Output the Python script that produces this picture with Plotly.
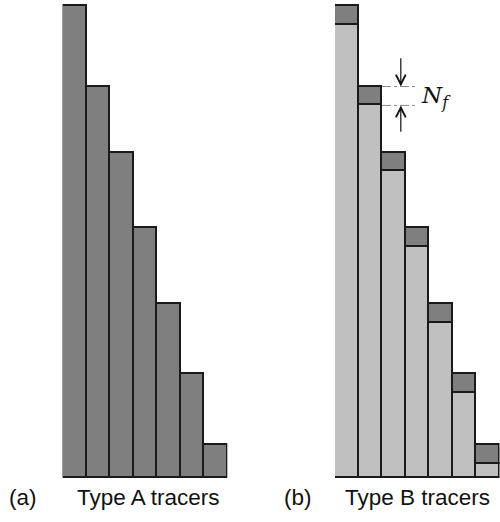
import plotly.graph_objects as go

# Data
bins = [1, 2, 3, 4, 5, 6, 7]
type_a_counts = [100, 83, 69, 53, 37, 22, 7]
nf = 4
type_b_light = [v - nf for v in type_a_counts]
type_b_dark = [nf] * len(bins)

dark = "#7f7f7f"
light = "#c0c0c0"
edge = "#1a1a1a"

W, H = 500, 522
fig = go.Figure()

fig.add_trace(go.Bar(x=bins, y=type_a_counts, width=1, marker=dict(color=dark, line=dict(color=edge, width=1.7)),
                     xaxis="x", yaxis="y", showlegend=False))
fig.add_trace(go.Bar(x=bins, y=type_b_light, width=1, marker=dict(color=light, line=dict(color=edge, width=1.7)),
                     xaxis="x2", yaxis="y2", showlegend=False))
fig.add_trace(go.Bar(x=bins, y=type_b_dark, width=1, marker=dict(color=dark, line=dict(color=edge, width=1.7)),
                     xaxis="x2", yaxis="y2", showlegend=False))

ymax = 101.33
ax_common = dict(visible=False, showgrid=False, zeroline=False, fixedrange=True)
fig.update_layout(
    width=W, height=H, margin=dict(l=0, r=0, t=0, b=0),
    paper_bgcolor="white", plot_bgcolor="rgba(0,0,0,0)",
    barmode="stack", bargap=0,
    xaxis=dict(domain=[62.7 / W, 227.3 / W], range=[0.5, 7.5], **ax_common),
    yaxis=dict(domain=[43.7 / H, 1], range=[0, ymax], **ax_common),
    xaxis2=dict(domain=[335 / W, 499.5 / W], range=[0.5, 7.5], anchor="y2", **ax_common),
    yaxis2=dict(domain=[43.7 / H, 1], range=[0, ymax], anchor="x2", **ax_common),
)

# Nf marker lines (dash-dot) at top and bottom of the dark cap of bar 2
top2 = type_a_counts[1]
bot2 = type_b_light[1]
for yv in (top2, bot2):
    fig.add_shape(type="line", xref="x2", yref="y2", x0=2.5, x1=3.96, y0=yv, y1=yv,
                  line=dict(color="#8a8a8a", width=1, dash="dashdot"))

arrow_x = 3.3
fig.add_annotation(x=arrow_x, y=top2, ax=arrow_x, ay=top2 + 6.3, xref="x2", yref="y2", axref="x2", ayref="y2",
                   text="", showarrow=True, arrowhead=5, arrowsize=1.6, arrowwidth=1.2, arrowcolor="#111")
fig.add_annotation(x=arrow_x, y=bot2, ax=arrow_x, ay=bot2 - 5.9, xref="x2", yref="y2", axref="x2", ayref="y2",
                   text="", showarrow=True, arrowhead=5, arrowsize=1.6, arrowwidth=1.2, arrowcolor="#111")
fig.add_annotation(x=419 / W, y=1 - 97 / H, xref="paper", yref="paper", xanchor="left", yanchor="middle",
                   text="<i>N</i><sub><i>f</i></sub>", showarrow=False,
                   font=dict(family="DejaVu Serif", size=23, color="#111"))

# Labels
lab_y = 1 - 497 / H
lab_font = dict(family="Liberation Sans", size=22.5, color="#111")
fig.add_annotation(x=22.5 / W, y=lab_y, xref="paper", yref="paper", text="(a)", showarrow=False,
                   xanchor="center", yanchor="middle", font=lab_font)
fig.add_annotation(x=148.5 / W, y=lab_y, xref="paper", yref="paper", text="Type A tracers", showarrow=False,
                   xanchor="center", yanchor="middle", font=lab_font)
fig.add_annotation(x=298 / W, y=lab_y, xref="paper", yref="paper", text="(b)", showarrow=False,
                   xanchor="center", yanchor="middle", font=lab_font)
fig.add_annotation(x=417.5 / W, y=lab_y, xref="paper", yref="paper", text="Type B tracers", showarrow=False,
                   xanchor="center", yanchor="middle", font=lab_font)

fig.write_html("out.html", config={"displayModeBar": False})
